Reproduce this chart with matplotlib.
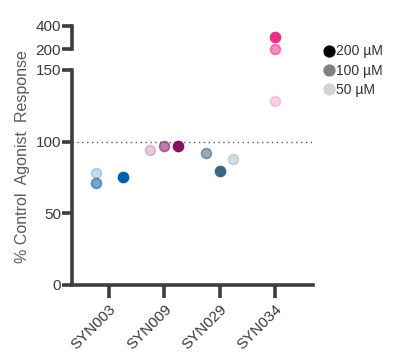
import matplotlib.pyplot as plt
from matplotlib.lines import Line2D

plt.rcParams['font.family'] = ['Liberation Sans', 'DejaVu Sans']

compounds = ['SYN003', 'SYN009', 'SYN029', 'SYN034']
doses = ['200 µM', '100 µM', '50 µM']

# values per dose, one per compound
resp_200 = [75.1, 97.0, 79.3, 307.0]
resp_100 = [71.2, 97.2, 92.1, 199.0]
resp_50 = [78.3, 94.2, 87.9, 128.4]

# horizontal jitter (category units)
jit_200 = [0.25, 0.24, 0.0, 0.0]
jit_100 = [-0.24, 0.0, -0.25, 0.0]
jit_50 = [-0.24, -0.25, 0.24, 0.0]

base_colors = ['#005ea8', '#8a0e62', '#3b6680', '#e8308a']
alphas = [1.0, 0.55, 0.22]

fig = plt.figure(figsize=(3.97, 3.63), dpi=100)
ax = fig.add_axes([0.1814, 0.2149, 0.607, 0.5923])
ax_top = fig.add_axes([0.1814, 0.865, 0.607, 0.0634], sharex=ax)

spine_c = '#3d3d3d'
for a in (ax, ax_top):
    for s in ['top', 'right']:
        a.spines[s].set_visible(False)
    a.spines['left'].set_linewidth(2.6)
    a.spines['left'].set_color(spine_c)
    a.tick_params(axis='y', width=2.6, length=7, color=spine_c,
                  labelsize=11, labelcolor='#3a3a3a', pad=1)
ax.spines['bottom'].set_linewidth(2.6)
ax.spines['bottom'].set_color(spine_c)
ax.tick_params(axis='x', width=2.6, length=9, color=spine_c,
               labelsize=11, labelcolor='#3a3a3a', pad=3)
ax_top.spines['bottom'].set_visible(False)
ax_top.tick_params(axis='x', bottom=False, labelbottom=False)

# lower axis: 0-150, upper axis: 200-400
series = [(resp_200, jit_200), (resp_100, jit_100), (resp_50, jit_50)]
for (vals, jit), al in zip(series, alphas):
    for i, c in enumerate(base_colors):
        x = i + jit[i]
        target = ax if vals[i] <= 150 else ax_top
        target.scatter(x, vals[i], s=52, color=c, alpha=al, linewidths=1.2,
                       edgecolors=c, zorder=3, clip_on=False)

ax.axhline(100, color='#555555', lw=1, ls=(0, (1, 2.5)), zorder=1)

ax.set_xlim(-0.67, 3.69)
ax.set_ylim(0, 150)
ax.set_yticks([0, 50, 100, 150])
ax.set_xticks(range(len(compounds)))
ax.set_xticklabels(compounds, rotation=45, ha='right', va='top',
                   rotation_mode='anchor')
ax_top.set_ylim(200, 400)
ax_top.set_yticks([200, 400])
ax_top.patch.set_alpha(0)
ax.patch.set_alpha(0)

fig.text(0.056, 0.569, '% Control  Agonist  Response', rotation=90,
         ha='center', va='center', fontsize=11.5, color='#5a5a5a')

handles = [Line2D([], [], ls='', marker='o', markersize=7.8, color=c)
           for c in ['#000000', '#808080', '#d3d3d3']]
fig.legend(handles, doses, loc='upper left', bbox_to_anchor=(0.797, 0.893),
           frameon=False, handletextpad=0.0, handlelength=1.0,
           labelspacing=0.38, fontsize=10, labelcolor='#333333',
           borderaxespad=0)

fig.savefig('out.png', dpi=100)
